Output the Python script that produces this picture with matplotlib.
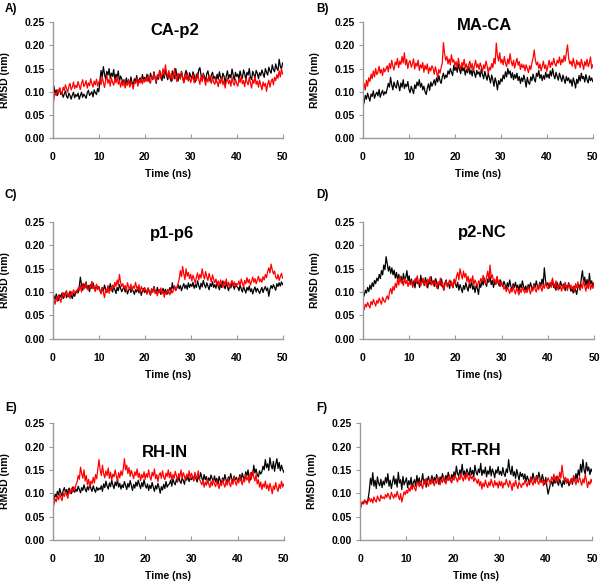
import numpy as np
import matplotlib
matplotlib.use("Agg")
import matplotlib.pyplot as plt

plt.rcParams['font.family'] = ['Liberation Sans', 'DejaVu Sans']
plt.rcParams['font.weight'] = 'bold'

# time axis (ns): start, first frame, then every 0.25 ns
time_ns = np.concatenate([[0.0, 0.05], np.arange(1, 201) * 0.25])

# RMSD values, in 0.001 nm (one row = 5 ns)
caP2_black = [0, 80,
    112, 96, 104, 92, 100, 108, 94, 99, 88, 95, 102, 90, 86, 97, 92, 84, 93, 99, 87, 94,
    90, 97, 84, 92, 99, 88, 95, 91, 86, 98, 103, 92, 96, 100, 89, 104, 98, 94, 107, 100,
    122, 146, 131, 154, 138, 127, 144, 136, 150, 129, 140, 133, 148, 125, 138, 131, 145, 122, 134, 128,
    118, 126, 111, 130, 119, 124, 113, 132, 120, 115, 128, 122, 135, 117, 126, 130, 121, 137, 125, 131,
    124, 138, 128, 121, 140, 132, 126, 143, 130, 118, 135, 127, 146, 133, 124, 139, 129, 148, 135, 126,
    140, 131, 122, 145, 136, 128, 150, 134, 123, 138, 129, 144, 132, 120, 137, 146, 131, 125, 141, 134,
    128, 143, 135, 121, 138, 130, 147, 152, 136, 126, 140, 132, 124, 139, 145, 130, 122, 136, 142, 129,
    133, 120, 138, 127, 143, 131, 124, 140, 134, 118, 135, 145, 128, 137, 130, 149, 136, 125, 142, 133,
    138, 127, 145, 134, 129, 147, 139, 125, 142, 136, 150, 131, 126, 144, 137, 130, 146, 140, 128, 141,
    135, 147, 139, 131, 150, 142, 136, 153, 145, 140, 158, 148, 143, 160, 150, 146, 170, 155, 149, 162]
caP2_red = [0, 70,
    86, 98, 92, 104, 96, 108, 100, 94, 110, 103, 115, 106, 99, 112, 118, 104, 110, 121, 107, 114,
    109, 122, 113, 105, 118, 126, 111, 116, 124, 108, 119, 113, 128, 117, 110, 123, 115, 127, 112, 120,
    126, 115, 132, 121, 109, 124, 136, 118, 127, 112, 130, 120, 114, 128, 119, 133, 116, 124, 110, 122,
    113, 125, 108, 119, 114, 127, 110, 121, 116, 106, 122, 118, 129, 112, 124, 119, 131, 117, 126, 121,
    130, 122, 136, 125, 118, 133, 127, 140, 129, 121, 137, 131, 145, 128, 138, 150, 134, 158, 141, 132,
    146, 128, 139, 124, 135, 150, 131, 122, 140, 133, 127, 143, 130, 119, 136, 126, 141, 123, 132, 120,
    128, 137, 119, 131, 124, 141, 127, 116, 133, 122, 138, 126, 114, 130, 121, 136, 125, 118, 132, 120,
    116, 128, 121, 111, 126, 118, 132, 115, 124, 108, 122, 129, 117, 125, 112, 131, 119, 114, 127, 118,
    112, 127, 120, 134, 117, 124, 111, 129, 121, 115, 131, 119, 108, 126, 118, 133, 116, 123, 110, 125,
    114, 104, 121, 112, 118, 101, 116, 125, 110, 122, 128, 115, 131, 124, 137, 129, 145, 132, 150, 138]

maCA_black = [0, 70,
    78, 92, 84, 97, 88, 80, 95, 90, 102, 86, 94, 99, 91, 105, 88, 97, 103, 93, 100, 96,
    106, 118, 110, 131, 115, 104, 121, 112, 108, 124, 114, 102, 119, 110, 126, 107, 116, 111, 122, 105,
    98, 112, 104, 96, 115, 107, 121, 113, 126, 110, 118, 104, 112, 100, 94, 108, 117, 103, 121, 112,
    118, 126, 114, 130, 121, 135, 124, 118, 132, 140, 128, 136, 131, 145, 138, 150, 142, 135, 157, 146,
    154, 142, 160, 148, 139, 155, 145, 152, 136, 148, 141, 156, 138, 147, 134, 150, 140, 131, 146, 138,
    143, 132, 150, 137, 128, 144, 134, 125, 140, 130, 119, 136, 126, 112, 130, 121, 104, 124, 116, 128,
    122, 136, 128, 143, 132, 150, 138, 145, 130, 141, 126, 137, 129, 140, 124, 133, 118, 130, 122, 136,
    125, 110, 131, 120, 116, 132, 124, 138, 128, 121, 140, 133, 146, 129, 137, 124, 135, 127, 142, 131,
    138, 129, 145, 134, 150, 136, 128, 142, 133, 125, 140, 131, 122, 136, 127, 118, 133, 124, 130, 119,
    126, 112, 130, 121, 108, 127, 118, 135, 123, 140, 128, 133, 121, 137, 126, 119, 134, 124, 130, 122]
maCA_red = [0, 100,
    118, 104, 125, 112, 130, 122, 138, 128, 145, 132, 150, 137, 142, 155, 140, 148, 135, 151, 143, 149,
    156, 143, 161, 150, 168, 155, 147, 164, 158, 172, 152, 166, 159, 176, 162, 184, 158, 170, 150, 163,
    167, 153, 160, 171, 149, 162, 155, 168, 146, 158, 151, 163, 142, 157, 148, 160, 139, 152, 145, 156,
    150, 138, 154, 142, 131, 148, 140, 152, 162, 206, 182, 168, 176, 160, 171, 158, 180, 164, 169, 156,
    165, 152, 172, 158, 148, 163, 155, 170, 151, 160, 146, 158, 166, 150, 161, 145, 156, 168, 152, 160,
    148, 162, 154, 143, 158, 150, 166, 156, 140, 153, 147, 161, 152, 172, 160, 205, 178, 166, 184, 162,
    170, 158, 176, 162, 154, 171, 160, 182, 165, 156, 168, 151, 163, 172, 157, 165, 148, 160, 152, 158,
    145, 158, 150, 141, 156, 148, 162, 172, 190, 168, 158, 164, 150, 160, 145, 155, 166, 150, 158, 144,
    156, 168, 152, 164, 158, 172, 160, 155, 168, 162, 175, 158, 170, 163, 178, 166, 185, 201, 172, 160,
    166, 155, 172, 160, 150, 168, 158, 164, 152, 170, 160, 148, 165, 156, 170, 154, 162, 175, 150, 158]

p1p6_black = [0, 85,
    92, 84, 96, 88, 82, 94, 89, 98, 86, 92, 100, 88, 95, 90, 102, 93, 86, 97, 91, 99,
    104, 98, 112, 132, 115, 104, 118, 109, 122, 106, 114, 101, 116, 108, 120, 110, 103, 115, 107, 112,
    104, 98, 110, 102, 115, 106, 99, 112, 104, 118, 108, 100, 113, 105, 97, 110, 103, 116, 108, 101,
    106, 112, 100, 108, 96, 104, 110, 99, 107, 102, 95, 105, 100, 111, 98, 106, 93, 103, 108, 99,
    104, 96, 109, 101, 94, 107, 100, 112, 103, 97, 110, 99, 105, 95, 102, 108, 98, 106, 100, 96,
    103, 110, 99, 120, 106, 113, 104, 109, 116, 107, 114, 103, 111, 118, 108, 115, 106, 120, 110, 117,
    112, 121, 108, 116, 110, 124, 114, 106, 119, 111, 125, 115, 109, 120, 113, 105, 118, 112, 122, 110,
    116, 108, 121, 112, 105, 117, 110, 124, 114, 107, 119, 111, 103, 116, 109, 121, 113, 106, 118, 112,
    110, 103, 115, 107, 100, 112, 105, 98, 110, 104, 113, 101, 107, 96, 105, 111, 100, 108, 103, 97,
    104, 110, 99, 107, 112, 103, 109, 91, 106, 114, 108, 116, 110, 104, 118, 112, 120, 113, 122, 116]
p1p6_red = [0, 75,
    82, 74, 90, 80, 94, 86, 78, 92, 99, 88, 96, 103, 91, 98, 86, 101, 95, 105, 97, 102,
    98, 109, 103, 114, 100, 118, 106, 112, 120, 108, 104, 115, 110, 123, 107, 113, 101, 117, 105, 111,
    104, 96, 110, 99, 88, 106, 101, 114, 97, 108, 103, 115, 109, 121, 112, 126, 115, 138, 120, 112,
    118, 108, 114, 103, 120, 111, 106, 117, 102, 113, 108, 121, 110, 104, 116, 99, 112, 106, 101, 110,
    104, 96, 108, 99, 93, 106, 100, 111, 97, 102, 92, 105, 99, 109, 96, 103, 89, 101, 95, 106,
    100, 94, 107, 98, 104, 112, 103, 110, 118, 128, 146, 133, 155, 139, 127, 150, 134, 142, 129, 138,
    124, 136, 128, 119, 132, 141, 126, 138, 130, 150, 136, 128, 144, 133, 125, 140, 131, 122, 137, 127,
    120, 128, 115, 124, 112, 126, 118, 110, 123, 116, 128, 113, 121, 108, 119, 125, 114, 122, 111, 118,
    116, 124, 113, 128, 119, 111, 125, 118, 131, 120, 127, 115, 123, 132, 121, 129, 118, 126, 134, 122,
    128, 121, 133, 126, 138, 131, 144, 152, 141, 160, 148, 139, 145, 132, 128, 138, 125, 133, 140, 130]

p2NC_black = [0, 90,
    92, 104, 98, 110, 101, 115, 106, 120, 112, 125, 118, 130, 124, 138, 129, 146, 137, 158, 148, 176,
    160, 145, 155, 140, 152, 137, 147, 130, 142, 126, 138, 124, 134, 118, 140, 126, 131, 146, 124, 135,
    116, 128, 112, 124, 109, 130, 118, 123, 110, 136, 120, 127, 114, 131, 121, 109, 125, 117, 133, 119,
    124, 112, 129, 118, 107, 122, 115, 128, 112, 104, 120, 126, 113, 119, 108, 124, 115, 110, 127, 118,
    110, 121, 104, 116, 108, 99, 114, 106, 120, 110, 102, 117, 109, 125, 106, 113, 99, 115, 108, 95,
    118, 110, 126, 115, 130, 119, 112, 128, 121, 134, 116, 125, 110, 122, 117, 131, 120, 113, 126, 118,
    112, 123, 116, 106, 120, 111, 126, 113, 104, 118, 110, 121, 108, 115, 102, 117, 109, 124, 112, 105,
    113, 101, 116, 108, 120, 111, 105, 118, 110, 124, 113, 107, 121, 112, 128, 116, 152, 125, 114, 120,
    108, 119, 112, 126, 110, 117, 104, 121, 113, 107, 123, 115, 109, 118, 103, 114, 108, 120, 111, 102,
    107, 98, 112, 104, 95, 110, 116, 105, 130, 146, 120, 132, 114, 127, 108, 140, 118, 124, 111, 120]
p2NC_red = [0, 65,
    62, 74, 68, 78, 71, 66, 80, 73, 84, 77, 70, 82, 76, 87, 80, 74, 89, 82, 78, 86,
    92, 84, 100, 108, 96, 112, 104, 119, 110, 128, 115, 134, 120, 126, 114, 130, 118, 125, 112, 122,
    116, 124, 110, 119, 128, 121, 135, 118, 126, 113, 122, 130, 117, 124, 111, 128, 120, 133, 115, 122,
    114, 126, 118, 108, 122, 116, 130, 112, 120, 105, 117, 124, 111, 119, 126, 113, 121, 109, 128, 118,
    134, 142, 126, 150, 138, 128, 145, 132, 140, 122, 134, 117, 129, 121, 135, 115, 126, 119, 111, 124,
    118, 129, 122, 136, 127, 118, 133, 145, 124, 158, 130, 137, 121, 128, 116, 134, 119, 126, 112, 121,
    116, 106, 112, 101, 110, 104, 97, 108, 100, 113, 103, 96, 109, 102, 94, 107, 99, 111, 104, 98,
    106, 99, 112, 104, 96, 109, 102, 115, 106, 100, 113, 105, 118, 109, 102, 116, 108, 121, 112, 107,
    114, 121, 110, 130, 117, 108, 124, 113, 104, 118, 110, 102, 116, 107, 121, 112, 103, 117, 109, 115,
    106, 113, 100, 118, 109, 122, 111, 104, 117, 108, 126, 112, 102, 119, 110, 123, 105, 116, 108, 120]

rhIN_black = [0, 80,
    86, 98, 92, 104, 96, 110, 100, 94, 106, 112, 101, 108, 97, 111, 104, 99, 113, 105, 102, 109,
    104, 115, 108, 101, 112, 106, 118, 109, 103, 114, 107, 120, 110, 104, 116, 108, 102, 113, 106, 111,
    108, 116, 104, 120, 112, 126, 115, 109, 122, 114, 128, 117, 110, 124, 116, 130, 113, 121, 109, 118,
    112, 125, 117, 108, 121, 113, 127, 116, 106, 119, 111, 124, 115, 128, 118, 110, 123, 114, 129, 117,
    111, 120, 106, 117, 110, 123, 113, 104, 116, 109, 121, 112, 100, 114, 107, 119, 110, 125, 113, 118,
    120, 128, 115, 131, 122, 118, 130, 124, 136, 126, 121, 133, 127, 119, 135, 128, 138, 125, 132, 129,
    136, 127, 141, 131, 124, 138, 130, 144, 133, 126, 140, 129, 136, 122, 133, 127, 139, 131, 125, 137,
    124, 132, 119, 136, 127, 121, 133, 126, 140, 129, 122, 135, 128, 142, 131, 124, 137, 129, 134, 126,
    131, 140, 127, 143, 134, 129, 146, 137, 150, 133, 128, 144, 138, 160, 143, 152, 140, 135, 148, 141,
    146, 158, 150, 172, 155, 163, 149, 176, 160, 152, 168, 147, 162, 174, 153, 166, 148, 160, 151, 145]
rhIN_red = [0, 70,
    76, 88, 82, 94, 86, 98, 91, 84, 100, 93, 104, 96, 89, 106, 99, 110, 102, 114, 106, 118,
    124, 138, 130, 156, 142, 132, 150, 126, 138, 118, 130, 114, 126, 120, 134, 122, 140, 131, 152, 172,
    150, 138, 160, 142, 133, 148, 138, 154, 132, 145, 128, 141, 135, 150, 137, 126, 144, 133, 148, 138,
    152, 174, 150, 160, 142, 155, 136, 149, 140, 131, 146, 138, 152, 134, 143, 127, 140, 133, 146, 130,
    142, 134, 150, 136, 128, 145, 137, 152, 131, 140, 125, 139, 144, 132, 148, 135, 129, 143, 136, 150,
    133, 145, 128, 140, 132, 147, 138, 126, 142, 135, 150, 131, 144, 137, 127, 141, 134, 148, 130, 143,
    136, 126, 145, 132, 138, 148, 130, 124, 118, 128, 113, 124, 117, 130, 120, 112, 126, 116, 129, 119,
    114, 127, 118, 110, 124, 116, 130, 120, 113, 126, 117, 132, 121, 114, 128, 119, 135, 124, 117, 130,
    122, 136, 127, 118, 131, 124, 140, 128, 135, 122, 144, 130, 148, 135, 126, 140, 120, 129, 113, 124,
    108, 120, 113, 126, 110, 118, 105, 121, 112, 99, 116, 108, 123, 111, 104, 119, 110, 126, 113, 120]

rtRH_black = [0, 65,
    74, 80, 77, 84, 82, 79, 88, 105, 132, 118, 144, 115, 128, 110, 135, 121, 116, 130, 112, 126,
    118, 134, 122, 142, 115, 128, 110, 124, 137, 119, 131, 113, 145, 122, 129, 108, 136, 118, 125, 133,
    112, 127, 118, 134, 110, 124, 129, 115, 138, 121, 133, 117, 126, 142, 120, 130, 113, 128, 136, 122,
    128, 138, 121, 134, 126, 140, 130, 119, 135, 127, 142, 131, 124, 138, 129, 145, 133, 126, 140, 132,
    146, 134, 158, 142, 137, 150, 141, 162, 139, 148, 133, 152, 144, 138, 155, 140, 149, 135, 160, 145,
    139, 152, 144, 164, 138, 150, 142, 156, 135, 148, 141, 158, 137, 152, 145, 133, 150, 143, 157, 140,
    147, 138, 155, 142, 136, 152, 144, 172, 150, 140, 158, 137, 146, 132, 151, 140, 128, 145, 136, 142,
    130, 141, 125, 137, 129, 118, 135, 127, 143, 131, 122, 138, 129, 145, 133, 124, 140, 130, 119, 134,
    114, 98, 109, 120, 126, 115, 131, 121, 136, 124, 117, 130, 122, 113, 127, 119, 133, 122, 128, 116,
    124, 131, 119, 136, 126, 142, 130, 150, 138, 162, 145, 172, 150, 141, 166, 148, 156, 140, 152, 146]
rtRH_red = [0, 70,
    74, 82, 78, 86, 80, 76, 84, 90, 82, 88, 79, 92, 85, 81, 94, 87, 83, 96, 89, 92,
    88, 97, 91, 100, 93, 87, 102, 95, 89, 98, 92, 104, 94, 86, 99, 81, 92, 103, 97, 106,
    100, 112, 104, 116, 108, 120, 111, 105, 118, 124, 114, 126, 117, 110, 128, 119, 132, 121, 115, 127,
    119, 131, 124, 116, 128, 121, 135, 125, 118, 130, 123, 137, 126, 120, 133, 127, 139, 129, 122, 134,
    128, 138, 131, 124, 136, 129, 142, 133, 126, 139, 130, 144, 134, 127, 140, 131, 136, 125, 133, 128,
    121, 130, 116, 125, 109, 122, 114, 128, 118, 112, 124, 116, 130, 120, 113, 127, 117, 123, 111, 126,
    116, 125, 111, 122, 118, 130, 120, 113, 127, 119, 106, 122, 115, 128, 117, 110, 124, 118, 112, 121,
    118, 128, 121, 114, 126, 120, 134, 124, 117, 129, 122, 136, 125, 119, 131, 123, 128, 116, 126, 120,
    124, 133, 127, 120, 135, 128, 141, 130, 123, 137, 126, 145, 132, 160, 138, 127, 134, 121, 131, 125,
    120, 132, 124, 138, 127, 118, 130, 123, 135, 126, 117, 131, 122, 140, 128, 112, 125, 119, 130, 122]

titles = ["CA-p2", "MA-CA", "p1-p6", "p2-NC", "RH-IN", "RT-RH"]
letters = ["A)", "B)", "C)", "D)", "E)", "F)"]
black_series = [caP2_black, maCA_black, p1p6_black, p2NC_black, rhIN_black, rtRH_black]
red_series = [caP2_red, maCA_red, p1p6_red, p2NC_red, rhIN_red, rtRH_red]

# axes boxes in figure fraction: left, bottom, width, height
boxes = [
    (0.088, 0.763, 0.383, 0.199),
    (0.605, 0.763, 0.383, 0.199),
    (0.088, 0.419, 0.383, 0.200),
    (0.605, 0.419, 0.385, 0.200),
    (0.088, 0.074, 0.385, 0.200),
    (0.600, 0.074, 0.387, 0.200),
]
title_pos = [(0.53, 0.93), (0.53, 0.97), (0.517, 0.906), (0.517, 0.915), (0.487, 0.75), (0.5, 0.77)]
letter_pos = [(0.008, 0.985), (0.527, 0.985), (0.008, 0.665), (0.527, 0.665), (0.008, 0.30), (0.527, 0.30)]

fig = plt.figure(figsize=(6.0, 5.83), dpi=100)
grey = '#9a9a9a'

for i in range(6):
    ax = fig.add_axes(boxes[i])
    ax.plot(time_ns, np.array(black_series[i]) / 1000, color='black', lw=0.9)
    ax.plot(time_ns, np.array(red_series[i]) / 1000, color='red', lw=0.9)
    ax.set_xlim(0, 50)
    ax.set_ylim(0, 0.25)
    ax.set_xticks([0, 10, 20, 30, 40, 50])
    ax.set_yticks([0, 0.05, 0.10, 0.15, 0.20, 0.25])
    ax.set_yticklabels(["0.00", "0.05", "0.10", "0.15", "0.20", "0.25"])
    for s in ['top', 'right']:
        ax.spines[s].set_visible(False)
    for s in ['left', 'bottom']:
        ax.spines[s].set_color(grey)
        ax.spines[s].set_linewidth(1.0)
    ax.tick_params(axis='x', direction='in', length=3, color=grey, pad=10, labelsize=7.5)
    ax.tick_params(axis='y', direction='out', length=3, color=grey, pad=2.5, labelsize=7.5)
    for lab in ax.get_xticklabels() + ax.get_yticklabels():
        lab.set_fontweight('bold')
    ax.set_xlabel("Time (ns)", fontsize=7.5, fontweight='bold')
    ax.set_ylabel("RMSD (nm)", fontsize=7.5, fontweight='bold')
    ax.xaxis.set_label_coords(0.5, -0.27)
    ax.yaxis.set_label_coords(-0.185, 0.5)
    ax.text(title_pos[i][0], title_pos[i][1], titles[i], transform=ax.transAxes,
            ha='center', va='center', fontsize=12, fontweight='bold')
    fig.text(letter_pos[i][0], letter_pos[i][1], letters[i], ha='left', va='center',
             fontsize=8.5, fontweight='bold')

fig.savefig("out.png", dpi=100)
